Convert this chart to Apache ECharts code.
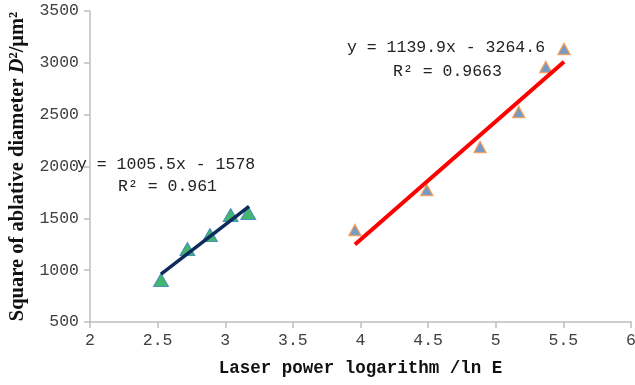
<!DOCTYPE html>
<html>
<head>
<meta charset="utf-8">
<script src="https://cdn.jsdelivr.net/npm/echarts@6/dist/echarts.min.js"></script>
<style>
  html, body { margin: 0; padding: 0; background: #fff; }
  #chart { width: 635px; height: 385px; }
</style>
</head>
<body>
<div id="chart"></div>
<script>
// ── data ─────────────────────────────────────────────────────────────────
const lowX = [2.525, 2.72, 2.887, 3.04, 3.17];
const lowY = [905, 1204, 1339, 1532, 1551];
const highX = [3.959, 4.49, 4.884, 5.17, 5.37, 5.505];
const highY = [1387, 1773, 2188, 2526, 2960, 3134];
// trend line end points (as drawn)
const lowTrend = [[2.525, 961], [3.176, 1615]];
const highTrend = [[3.959, 1248], [5.505, 3010]];
const xTicks = [2, 2.5, 3, 3.5, 4, 4.5, 5, 5.5, 6];
const yTicks = [500, 1000, 1500, 2000, 2500, 3000, 3500];
const eqLow = ['y = 1005.5x - 1578', 'R² = 0.961'];
const eqHigh = ['y = 1139.9x - 3264.6', 'R² = 0.9663'];

const MONO = '"Liberation Mono", monospace';
const SERIF = '"Liberation Serif", "Times New Roman", serif';
const AXIS = '#bfbfbf';
const LABEL = '#404040';

const zip = (xs, ys) => xs.map((x, i) => [x, ys[i]]);

const chart = echarts.init(document.getElementById('chart'), null, { renderer: 'canvas' });

chart.setOption({
  animation: false,
  backgroundColor: '#fff',
  grid: { left: 90, right: 4, top: 11, bottom: 63, containLabel: false, outerBoundsMode: 'none' },
  xAxis: {
    type: 'value',
    min: xTicks[0], max: xTicks[xTicks.length - 1], interval: 0.5,
    name: 'Laser power logarithm /ln E',
    nameLocation: 'middle', nameGap: 38,
    nameTextStyle: { fontFamily: MONO, fontWeight: 'bold', fontSize: 17.5, color: '#111' },
    axisLine: { lineStyle: { color: AXIS, width: 1.5 } },
    axisTick: { lineStyle: { color: AXIS, width: 1.5 }, length: 6 },
    axisLabel: { fontFamily: MONO, fontSize: 16.5, color: LABEL, margin: 10, formatter: v => String(v) },
    splitLine: { show: false }
  },
  yAxis: {
    type: 'value',
    min: yTicks[0], max: yTicks[yTicks.length - 1], interval: 500,
    name: 'Square of ablative diameter {i|D}²/μm²',
    nameLocation: 'middle', nameGap: 62, nameRotate: 90,
    nameTextStyle: {
      fontFamily: SERIF, fontWeight: 'bold', fontSize: 20.5, color: '#111',
      rich: { i: { fontFamily: SERIF, fontWeight: 'bold', fontStyle: 'italic', fontSize: 20.5, color: '#111' } }
    },
    axisLine: { show: true, lineStyle: { color: AXIS, width: 1.5 } },
    axisTick: { show: true, lineStyle: { color: AXIS, width: 1.5 }, length: 6 },
    axisLabel: { fontFamily: MONO, fontSize: 16.5, color: LABEL, margin: 11, formatter: v => String(v) },
    splitLine: { show: false }
  },
  series: [
    {
      type: 'line', data: lowTrend, symbol: 'none', z: 3,
      lineStyle: { color: '#0f2a5c', width: 3.5 }
    },
    {
      type: 'scatter', data: zip(lowX, lowY), symbol: 'triangle', symbolSize: [15, 13], z: 2,
      itemStyle: { color: '#13a548', borderColor: '#3a7cc0', borderWidth: 1 }
    },
    {
      type: 'line', data: highTrend, symbol: 'none', z: 3,
      lineStyle: { color: '#ff0000', width: 4 }
    },
    {
      type: 'scatter', data: zip(highX, highY), symbol: 'triangle', symbolSize: [12, 11], z: 2,
      itemStyle: { color: '#4f81bd', borderColor: '#f79646', borderWidth: 1.5 }
    }
  ],
  graphic: [
    { type: 'text', left: 77, top: 156, style: { text: eqLow[0], font: '16.5px ' + MONO, fill: '#222' } },
    { type: 'text', left: 118, top: 178, style: { text: eqLow[1], font: '16.5px ' + MONO, fill: '#222' } },
    { type: 'text', left: 347, top: 39, style: { text: eqHigh[0], font: '16.5px ' + MONO, fill: '#222' } },
    { type: 'text', left: 393, top: 63, style: { text: eqHigh[1], font: '16.5px ' + MONO, fill: '#222' } }
  ]
});
</script>
</body>
</html>
